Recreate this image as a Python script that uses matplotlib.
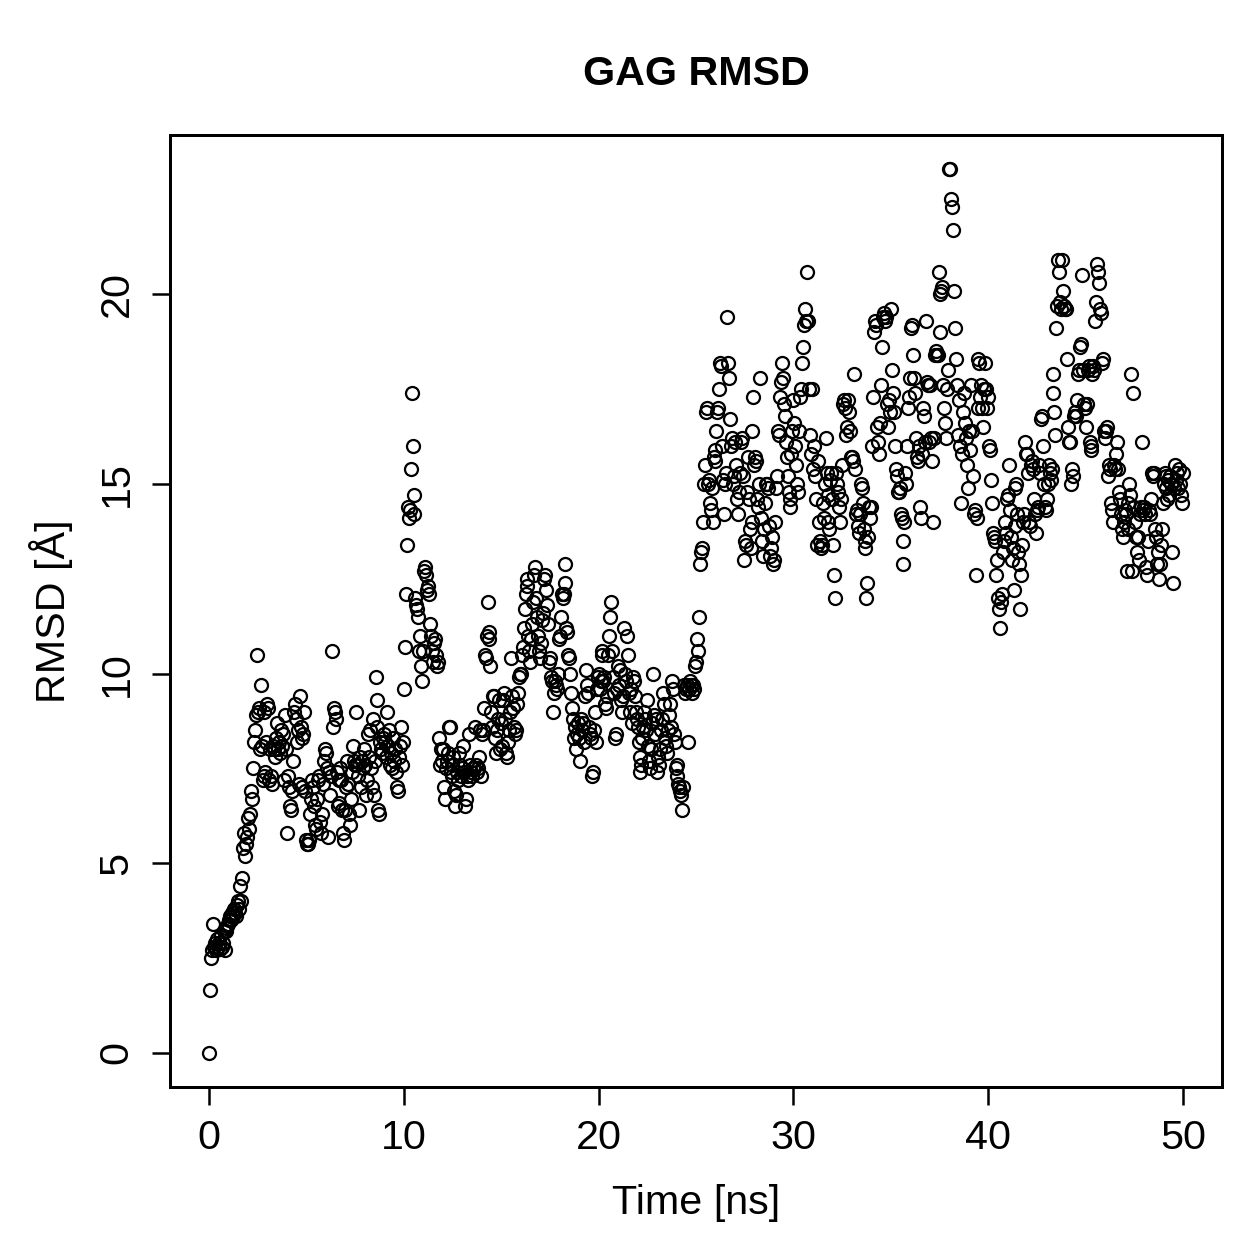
"""
GAG RMSD over a 50 ns trajectory, R-style open-circle scatter.
"""

import numpy as np
import matplotlib
matplotlib.use("Agg")
import matplotlib.pyplot as plt

plt.rcParams['font.family'] = ['Liberation Sans', 'DejaVu Sans']

title = "GAG RMSD"
x_label = "Time [ns]"
y_label = "RMSD [Å]"
x_ticks = [0, 10, 20, 30, 40, 50]
y_ticks = [0, 5, 10, 15, 20]

# RMSD values, one row per ns (20 frames per ns).
rmsd_00_10 = [
    0.0, 1.65, 2.5, 2.7, 3.4, 2.8, 2.9, 2.7, 3.0, 2.8, 2.9, 2.75, 3.1, 2.8, 2.9, 3.2, 2.7, 3.3, 3.2, 3.35,
    3.4, 3.5, 3.6, 3.5, 3.7, 3.6, 3.8, 3.7, 3.6, 3.9, 4.0, 3.8, 4.4, 4.0, 4.6, 5.4, 5.8, 5.2, 5.5, 5.7,
    6.2, 5.9, 6.3, 6.9, 6.7, 7.5, 8.2, 8.5, 8.9, 10.5, 9.0, 9.1, 8.0, 9.7, 8.1, 7.2, 9.0, 7.3, 7.4, 8.2,
    9.2, 9.1, 7.2, 8.0, 7.3, 7.1, 8.1, 8.0, 7.8, 8.3, 8.7, 8.0, 8.2, 7.9, 8.5, 8.1, 8.4, 7.2, 8.9, 8.0,
    5.8, 7.3, 7.0, 6.5, 6.4, 6.9, 7.7, 9.0, 9.2, 8.8, 8.2, 8.5, 7.1, 9.4, 8.6, 8.3, 7.0, 8.4, 9.0, 6.9,
    5.6, 5.5, 5.5, 5.6, 6.3, 6.7, 7.2, 7.0, 6.5, 6.0, 5.9, 6.7, 7.2, 7.3, 6.1, 5.8, 6.3, 7.1, 7.7, 8.0,
    7.9, 7.5, 5.7, 7.4, 6.8, 7.3, 10.6, 8.6, 9.1, 9.0, 8.8, 7.4, 6.5, 7.2, 6.6, 7.5, 7.2, 6.4, 5.8, 5.6,
    6.4, 7.0, 7.7, 7.1, 6.3, 6.0, 6.7, 7.4, 8.1, 7.7, 7.6, 9.0, 7.6, 7.3, 6.4, 7.8, 7.0, 7.7, 7.5, 8.0,
    7.6, 6.8, 7.2, 8.4, 7.8, 8.5, 7.5, 7.0, 8.8, 6.8, 7.7, 9.9, 9.3, 8.6, 6.4, 6.3, 8.2, 8.0, 7.9, 8.3,
    8.4, 8.2, 7.8, 9.0, 8.1, 8.5, 7.6, 7.9, 7.5, 8.3, 7.7, 8.0, 7.4, 7.0, 6.9, 7.8, 8.1, 8.6, 7.6, 8.2,
]

rmsd_10_20 = [
    9.6, 10.7, 12.1, 13.4, 14.4, 14.1, 14.3, 15.4, 17.4, 16.0, 14.7, 14.2, 12.0, 11.8, 11.7, 11.5, 10.6, 11.0, 10.2, 9.8,
    10.6, 12.7, 12.8, 12.6, 12.2, 12.3, 12.1, 11.3, 11.0, 10.6, 10.3, 10.8, 10.9, 10.5, 10.2, 10.3, 8.3, 7.6, 8.0, 7.7,
    8.0, 7.0, 6.7, 7.5, 7.7, 7.9, 8.6, 8.6, 7.4, 7.3, 7.6, 7.8, 6.9, 6.5, 6.8, 7.4, 7.2, 7.9, 7.6, 7.3,
    7.5, 8.1, 7.4, 6.5, 6.7, 7.3, 7.2, 8.4, 7.6, 7.4, 7.3, 7.5, 7.5, 8.6, 7.6, 7.4, 7.5, 7.8, 8.5, 7.3,
    8.4, 8.5, 9.1, 10.5, 10.4, 11.0, 11.9, 10.9, 11.1, 10.2, 9.0, 8.6, 9.4, 9.4, 8.3, 7.9, 8.5, 8.8, 9.3, 8.0,
    8.7, 8.1, 9.3, 9.5, 8.8, 7.9, 7.8, 8.2, 8.5, 9.0, 10.4, 9.4, 9.1, 8.6, 8.4, 8.5, 9.2, 9.5, 9.9, 10.0,
    10.0, 10.5, 10.7, 11.2, 11.7, 12.1, 12.5, 12.3, 11.0, 10.6, 10.3, 10.9, 11.3, 11.9, 12.6, 12.8, 12.0, 11.5, 11.0, 10.6,
    10.4, 10.8, 11.4, 11.6, 12.5, 12.6, 12.2, 11.8, 11.3, 10.3, 10.4, 9.9, 9.8, 9.0, 9.5, 9.8, 9.7, 9.6, 10.0, 10.9,
    11.0, 11.5, 12.1, 12.0, 12.1, 12.9, 12.4, 11.2, 11.1, 10.5, 10.4, 10.0, 9.5, 9.1, 8.8, 8.3, 8.6, 8.0, 8.4, 8.7,
    8.3, 7.7, 8.8, 8.5, 8.7, 8.2, 9.4, 10.1, 9.7, 9.5, 8.6, 8.4, 8.3, 7.3, 7.4, 8.5, 9.0, 8.2, 9.6, 9.9,
]

rmsd_20_30 = [
    10.0, 9.6, 9.8, 10.5, 10.6, 9.8, 9.9, 9.2, 9.1, 9.4, 10.5, 11.0, 11.5, 11.9, 10.6, 9.9, 9.5, 8.3, 8.4, 9.6,
    10.2, 9.7, 10.1, 9.3, 9.0, 9.4, 11.2, 10.0, 9.8, 11.0, 10.5, 9.5, 9.0, 9.6, 8.7, 9.9, 9.8, 9.4, 9.0, 8.8,
    8.6, 8.2, 7.8, 7.4, 7.6, 8.3, 8.6, 9.0, 8.8, 8.5, 9.3, 8.1, 7.7, 7.5, 8.0, 8.7, 10.0, 8.9, 8.4, 8.8,
    7.4, 7.8, 7.6, 8.0, 8.5, 8.8, 9.5, 9.2, 8.3, 8.1, 7.9, 8.5, 8.9, 9.2, 8.6, 9.8, 9.6, 8.4, 8.2, 7.5,
    7.6, 7.3, 7.1, 7.0, 6.9, 6.8, 6.4, 7.0, 9.7, 9.5, 9.6, 9.7, 8.2, 9.6, 9.8, 9.7, 9.5, 9.7, 9.6, 10.2,
    10.3, 10.9, 10.6, 11.5, 12.9, 13.2, 13.3, 14.0, 15.0, 15.5, 16.9, 17.0, 15.0, 15.1, 14.5, 14.3, 14.9, 14.0, 15.7, 15.6,
    15.9, 16.4, 16.9, 17.0, 17.5, 18.2, 18.1, 16.0, 15.1, 14.2, 15.0, 15.3, 19.4, 18.2, 17.8, 16.7, 16.0, 16.2, 15.0, 15.2,
    16.1, 15.5, 14.6, 14.2, 14.8, 15.3, 16.1, 16.2, 15.2, 13.0, 13.5, 13.4, 14.8, 15.7, 14.6, 13.8, 13.3, 14.0, 16.4, 17.3,
    15.5, 15.7, 15.6, 14.6, 14.4, 15.0, 17.8, 14.1, 13.5, 13.1, 13.8, 14.5, 15.0, 15.0, 14.9, 13.9, 13.1, 13.3, 13.6, 12.9,
    13.0, 14.0, 14.9, 15.2, 16.4, 16.3, 17.3, 17.7, 18.2, 17.8, 17.1, 16.8, 16.1, 15.7, 15.2, 14.8, 14.6, 14.4, 15.8, 16.4,
]

rmsd_30_40 = [
    17.2, 16.6, 16.0, 15.5, 15.0, 14.8, 16.4, 17.3, 17.5, 18.2, 18.6, 19.2, 19.6, 19.3, 20.6, 19.3, 17.5, 16.3, 15.8, 17.5,
    15.4, 16.0, 15.2, 14.6, 13.4, 15.6, 14.0, 13.5, 13.3, 13.4, 14.5, 14.1, 15.0, 16.2, 15.3, 14.0, 14.7, 13.8, 15.1, 15.3,
    14.6, 13.4, 12.6, 12.0, 15.3, 15.0, 14.8, 14.4, 14.0, 14.6, 15.5, 17.1, 17.2, 17.0, 16.3, 16.5, 17.2, 16.9, 16.4, 15.7,
    15.7, 15.6, 17.9, 15.4, 14.2, 14.3, 13.9, 13.7, 14.2, 15.0, 14.9, 14.5, 13.8, 13.3, 13.5, 12.0, 12.4, 13.6, 14.4, 14.1,
    14.4, 16.0, 17.3, 19.0, 19.3, 19.2, 16.5, 16.1, 15.8, 16.6, 17.6, 18.6, 19.4, 19.5, 19.3, 19.4, 17.1, 16.5, 17.2, 16.9,
    19.6, 18.0, 17.4, 16.9, 16.0, 15.4, 15.2, 14.8, 14.8, 14.9, 14.2, 14.1, 13.5, 12.9, 14.0, 15.3, 15.0, 16.0, 17.0, 17.3,
    17.8, 19.1, 19.2, 18.4, 17.8, 17.4, 16.2, 15.7, 15.6, 16.0, 14.4, 14.1, 15.8, 17.0, 16.8, 16.1, 19.3, 17.7, 17.6, 16.1,
    17.6, 16.2, 15.6, 14.0, 16.2, 18.4, 18.5, 18.4, 18.4, 20.6, 20.0, 19.0, 20.1, 20.2, 17.6, 17.0, 16.6, 16.2, 17.5, 18.0,
    23.3, 23.3, 22.5, 22.3, 21.7, 20.1, 19.1, 18.3, 17.6, 16.3, 17.2, 16.0, 14.5, 15.8, 16.9, 17.4, 16.6, 16.2, 15.5, 14.9,
    16.4, 15.9, 17.6, 16.4, 15.2, 14.2, 14.3, 12.6, 14.1, 17.0, 18.3, 18.2, 17.3, 17.6, 17.0, 16.5, 17.5, 18.2, 17.5, 17.0,
]

rmsd_40_50 = [
    17.3, 16.0, 15.9, 15.1, 14.5, 13.7, 13.6, 13.5, 12.6, 13.0, 12.0, 11.7, 11.2, 11.9, 12.1, 13.2, 13.5, 14.0, 13.7, 14.6,
    14.7, 15.5, 14.3, 13.6, 13.0, 13.3, 12.2, 13.9, 14.9, 15.0, 14.2, 13.2, 12.9, 11.7, 12.6, 13.4, 14.0, 14.2, 16.1, 15.8,
    15.8, 15.3, 14.0, 13.9, 15.5, 15.6, 15.4, 14.6, 14.2, 13.7, 14.3, 14.4, 15.5, 15.3, 16.7, 16.8, 16.0, 15.0, 14.4, 14.3,
    14.6, 15.0, 15.5, 15.3, 15.1, 15.4, 17.9, 17.4, 16.9, 16.3, 19.1, 19.7, 20.9, 20.6, 19.8, 19.6, 20.9, 20.1, 19.7, 19.6,
    19.6, 18.3, 16.5, 16.1, 16.1, 15.0, 15.4, 15.2, 16.8, 16.9, 16.8, 17.2, 17.9, 18.0, 18.6, 18.7, 20.5, 18.0, 17.1, 17.0,
    16.5, 17.1, 18.0, 18.1, 16.1, 15.9, 16.0, 17.9, 18.1, 18.0, 19.3, 19.8, 20.8, 20.6, 20.3, 19.6, 19.5, 18.2, 18.3, 16.4,
    16.2, 16.4, 16.5, 15.2, 15.5, 15.4, 14.5, 14.3, 14.0, 15.5, 15.4, 15.8, 16.1, 15.4, 14.8, 14.6, 14.2, 13.8, 13.6, 14.0,
    14.3, 14.2, 12.7, 14.5, 13.8, 15.0, 14.7, 17.9, 12.7, 17.4, 14.4, 14.0, 13.6, 13.2, 13.6, 13.0, 14.2, 14.4, 16.1, 14.3,
    14.4, 14.2, 12.8, 12.6, 13.5, 14.3, 14.2, 14.6, 15.3, 15.2, 15.3, 13.8, 13.6, 12.9, 13.2, 12.5, 12.9, 13.4, 13.8, 14.5,
    15.0, 15.3, 15.2, 14.9, 14.6, 15.1, 14.7, 15.2, 15.0, 13.2, 12.4, 14.9, 15.5, 15.1, 15.3, 14.9, 15.4, 15.0, 14.7, 14.5,
    15.3,
]

rmsd = np.array(rmsd_00_10 + rmsd_10_20 + rmsd_20_30 + rmsd_30_40 + rmsd_40_50)
time = np.linspace(0, 50, len(rmsd))

fig = plt.figure(figsize=(1259 / 180, 1259 / 180), dpi=180)
ax = fig.add_axes([170 / 1259, 1 - 1087 / 1259, (1222 - 170) / 1259, (1087 - 135) / 1259])

ax.plot(time, rmsd, linestyle='none', marker='o', markersize=5.2,
        markerfacecolor='none', markeredgecolor='black', markeredgewidth=0.9)

ax.set_xlim(-2, 52)
ax.set_ylim(-0.9, 24.2)
ax.set_xticks(x_ticks)
ax.set_yticks(y_ticks)
ax.set_yticklabels([str(v) for v in y_ticks], rotation=90, va='center')

ax.tick_params(direction='out', length=7.2, width=1.0, labelsize=16.5, colors='black')
ax.tick_params(axis='x', pad=5.5)
ax.tick_params(axis='y', pad=6.5)
for s in ax.spines.values():
    s.set_linewidth(1.2)
    s.set_color('black')

ax.set_xlabel(x_label, fontsize=16.5, labelpad=11)
ax.set_ylabel(y_label, fontsize=16.5, labelpad=10)
# title centred over the plot box, like R's main=
ax.set_title(title, fontsize=16.5, fontweight='bold', pad=20)

plt.savefig("out.png", dpi=180)
